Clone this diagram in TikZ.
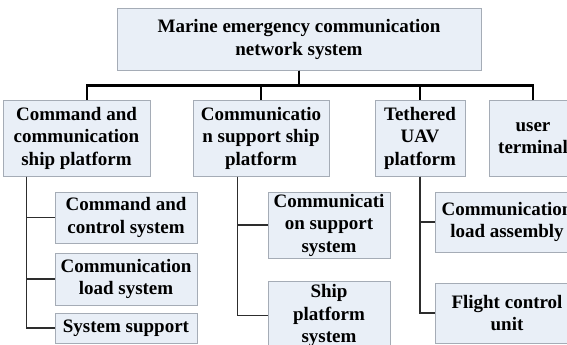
\documentclass[tikz,border=0pt]{standalone}
\usepackage{fontspec}
\setmainfont{Liberation Serif}
\usepackage{tikz}
\usetikzlibrary{positioning}
\definecolor{mecFill}{RGB}{233,239,247}
\definecolor{mecEdge}{RGB}{165,172,182}
\definecolor{mecLine}{RGB}{45,45,45}

\begin{document}
\begin{tikzpicture}[x=1pt,y=-1pt,
  font=\bfseries\fontsize{19}{22.5}\selectfont,
  netbox/.style={draw=mecEdge,line width=1pt,fill=mecFill,align=center,inner sep=0pt},
  platbox/.style={netbox,minimum height=76},
  subbox/.style={netbox,minimum width=#1},
  trunk/.style={line width=2.4pt,black},
  branch/.style={line width=1.6pt,mecLine}
]
\useasboundingbox (0,0) rectangle (567,345);

\node[netbox,minimum width=364,minimum height=61] (top) at (299,39.5) {Marine emergency communication\\network system};

\node[platbox,minimum width=147] (b1) at (76.5,138) {Command and\\communication\\ship platform};
\node[platbox,minimum width=136] (b2) at (261,138) {Communicatio\\n support ship\\platform};
\node[platbox,minimum width=90] (b3) at (420,138) {Tethered\\UAV\\platform};
\node[platbox,minimum width=88] (b4) at (533,138) {user\\terminal};

\node[subbox=142,minimum height=51] (l1) at (126,217.5) {Command and\\control system};
\node[subbox=142,minimum height=52] (l2) at (126,279) {Communication\\load system};
\node[subbox=142,minimum height=30] (l3) at (126,328) {System support};

\node[subbox=122,minimum height=66] (m1) at (329,225) {Communicati\\on support\\system};
\node[subbox=122,minimum height=69] (m2) at (329,315.5) {Ship\\platform\\system};

\node[subbox=144,minimum height=60] (r1) at (507,222) {Communication\\load assembly};
\node[subbox=144,minimum height=60] (r2) at (507,313) {Flight control\\unit};

\draw[trunk] (top.south) -- ++(0,15) -| ([xshift=10.5]b1.north);
\foreach \b in {b2,b3,b4}{\draw[trunk] (top.south) -- ++(0,15) -| (\b.north);}

\foreach \s in {l1,l2,l3}{\draw[branch] ([xshift=24]b1.south west) |- (\s.west);}
\foreach \s in {m1,m2}{\draw[branch] ([xshift=45]b2.south west) |- (\s.west);}
\foreach \s in {r1,r2}{\draw[branch] (b3.south) |- (\s.west);}
\end{tikzpicture}
\end{document}
